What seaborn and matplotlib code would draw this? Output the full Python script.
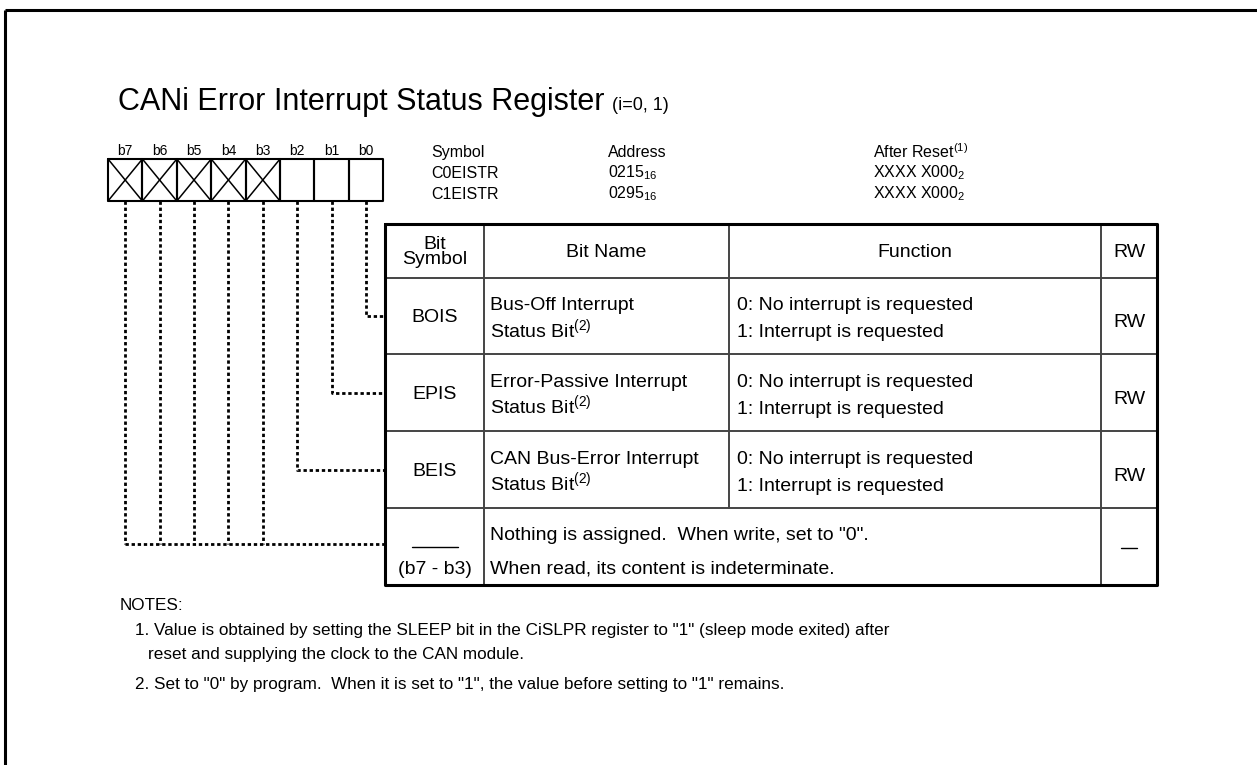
import matplotlib.pyplot as plt
import seaborn as sns

# ---- register contents ----
BIT_LABELS = ["b7", "b6", "b5", "b4", "b3", "b2", "b1", "b0"]
RESERVED = [True, True, True, True, True, False, False, False]

REG_HEADER = ["Symbol", "Address", "After Reset$^{(1)}$"]
REG_SYMBOLS = ["C0EISTR", "C1EISTR"]
REG_ADDRESS = ["0215$_{16}$", "0295$_{16}$"]
REG_RESET = ["XXXX X000$_{2}$", "XXXX X000$_{2}$"]

COL_HEADERS = ["Bit\nSymbol", "Bit Name", "Function", "RW"]
BIT_SYMBOLS = ["BOIS", "EPIS", "BEIS"]
BIT_INDEX = [0, 1, 2]
BIT_NAMES = [
    ("Bus-Off Interrupt", "Status Bit$^{(2)}$"),
    ("Error-Passive Interrupt", "Status Bit$^{(2)}$"),
    ("CAN Bus-Error Interrupt", "Status Bit$^{(2)}$"),
]
FUNCTIONS = [
    ("0: No interrupt is requested", "1: Interrupt is requested"),
    ("0: No interrupt is requested", "1: Interrupt is requested"),
    ("0: No interrupt is requested", "1: Interrupt is requested"),
]
RW = ["RW", "RW", "RW"]
RESERVED_SYMBOL = "(b7 - b3)"
RESERVED_TEXT = ('Nothing is assigned.  When write, set to "0".',
                 "When read, its content is indeterminate.")

TITLE = "CANi Error Interrupt Status Register"
SUBTITLE = "(i=0, 1)"
NOTES = [
    "NOTES:",
    '1. Value is obtained by setting the SLEEP bit in the CiSLPR register to "1" (sleep mode exited) after',
    "reset and supplying the clock to the CAN module.",
    '2. Set to "0" by program.  When it is set to "1", the value before setting to "1" remains.',
]

# ---- layout (pixels) ----
W, H = 1257, 765
BOX_X0, BOX_W, BOX_Y0, BOX_Y1 = 108, 34.4, 159, 201
TX = [385, 484, 729, 1101, 1157]
TY = [224, 278, 354, 431, 508, 585]
FS_BODY, FS_REG, FS_NOTE = 14, 11.5, 12.3

sns.set_theme(style="white")
plt.rcParams["font.family"] = ["Liberation Sans", "DejaVu Sans"]
plt.rcParams["text.color"] = "black"
plt.rcParams["mathtext.fontset"] = "custom"
plt.rcParams["mathtext.rm"] = "Liberation Sans"
plt.rcParams["mathtext.it"] = "Liberation Sans:italic"
plt.rcParams["mathtext.bf"] = "Liberation Sans:bold"

fig = plt.figure(figsize=(W / 100, H / 100), dpi=100)
ax = fig.add_axes([0, 0, 1, 1])
ax.set_xlim(0, W)
ax.set_ylim(H, 0)
ax.axis("off")

# outer frame (top and left only)
ax.plot([5, W], [10, 10], color="black", lw=2.2, solid_capstyle="butt")
ax.plot([5, 5], [10, H], color="black", lw=2.2, solid_capstyle="butt")

ax.text(118, 110, TITLE, fontsize=22, va="baseline", ha="left")
ax.text(612, 110, SUBTITLE, fontsize=13, va="baseline", ha="left")

# bit boxes
for i, (lab, res) in enumerate(zip(BIT_LABELS, RESERVED)):
    x0 = BOX_X0 + i * BOX_W
    x1 = x0 + BOX_W
    ax.text((x0 + x1) / 2, 151, lab, fontsize=10, ha="center", va="center")
    ax.plot([x0, x1, x1, x0, x0], [BOX_Y0, BOX_Y0, BOX_Y1, BOX_Y1, BOX_Y0],
            color="black", lw=1.5)
    if res:
        ax.plot([x0, x1], [BOX_Y0, BOX_Y1], color="black", lw=1.1)
        ax.plot([x0, x1], [BOX_Y1, BOX_Y0], color="black", lw=1.1)

# register symbol / address / reset block
for col_x, head, vals in zip([431, 608, 873], REG_HEADER,
                             [REG_SYMBOLS, REG_ADDRESS, REG_RESET]):
    ax.text(col_x, 152, head, fontsize=FS_REG, ha="left", va="center")
    for j, v in enumerate(vals):
        ax.text(col_x, 173 + 21 * j, v, fontsize=FS_REG, ha="left", va="center")

# table grid
inner = dict(color="#444444", lw=1.4)
for y in TY[1:-1]:
    ax.plot([TX[0], TX[-1]], [y, y], **inner)
for k, x in enumerate(TX[1:-1]):
    # the last row merges Bit Name and Function
    y_end = TY[-1] if k != 1 else TY[-2]
    ax.plot([x, x], [TY[0], y_end], **inner)
ax.plot([TX[0], TX[-1], TX[-1], TX[0], TX[0]],
        [TY[0], TY[0], TY[-1], TY[-1], TY[0]], color="black", lw=2.2)

# header row
hc = (TY[0] + TY[1]) / 2
for k, head in enumerate(COL_HEADERS):
    xc = (TX[k] + TX[k + 1]) / 2
    ax.text(xc, hc + 1, head, fontsize=FS_BODY, ha="center", va="center",
            linespacing=0.85)

# bit rows
for r in range(len(BIT_SYMBOLS)):
    y0, y1 = TY[r + 1], TY[r + 2]
    c = (y0 + y1) / 2
    ax.text((TX[0] + TX[1]) / 2, c + 6, BIT_SYMBOLS[r], fontsize=FS_BODY,
            ha="center", va="baseline")
    ax.text(TX[1] + 6, c - 6, BIT_NAMES[r][0], fontsize=FS_BODY, va="baseline")
    ax.text(TX[1] + 6, c + 21, BIT_NAMES[r][1], fontsize=FS_BODY, va="baseline")
    ax.text(TX[2] + 8, c - 6, FUNCTIONS[r][0], fontsize=FS_BODY, va="baseline")
    ax.text(TX[2] + 8, c + 21, FUNCTIONS[r][1], fontsize=FS_BODY, va="baseline")
    ax.text((TX[3] + TX[4]) / 2, c + 11, RW[r], fontsize=FS_BODY,
            ha="center", va="baseline")

# reserved row
y0, y1 = TY[-2], TY[-1]
c = (y0 + y1) / 2
xc = (TX[0] + TX[1]) / 2
ax.plot([xc - 23, xc + 23], [c, c], color="black", lw=1.0)
ax.text(xc, c + 27, RESERVED_SYMBOL, fontsize=FS_BODY, ha="center", va="baseline")
ax.text(TX[1] + 6, c - 6, RESERVED_TEXT[0], fontsize=FS_BODY, va="baseline")
ax.text(TX[1] + 6, c + 27, RESERVED_TEXT[1], fontsize=FS_BODY, va="baseline")
xr = (TX[3] + TX[4]) / 2
ax.plot([xr - 8, xr + 8], [c + 1, c + 1], color="black", lw=1.0)

# dotted leader lines from bits to table rows
dot = dict(color="black", lw=2.0, linestyle=(0, (1.2, 1.0)), dash_capstyle="butt")
bit_pos = {b: BOX_X0 + (7 - b + 0.5) * BOX_W for b in range(8)}
for r, b in enumerate(BIT_INDEX):
    yc = (TY[r + 1] + TY[r + 2]) / 2
    ax.plot([bit_pos[b], bit_pos[b], TX[0]], [BOX_Y1, yc, yc], **dot)
yc = (TY[-2] + TY[-1]) / 2 - 3
for i, res in enumerate(RESERVED):
    if res:
        x = BOX_X0 + (i + 0.5) * BOX_W
        ax.plot([x, x], [BOX_Y1, yc], **dot)
ax.plot([bit_pos[7], TX[0]], [yc, yc], **dot)

# notes
ax.text(120, 605, NOTES[0], fontsize=FS_NOTE, va="center")
ax.text(135, 631, NOTES[1], fontsize=FS_NOTE, va="center")
ax.text(148, 655, NOTES[2], fontsize=FS_NOTE, va="center")
ax.text(135, 685, NOTES[3], fontsize=FS_NOTE, va="center")

fig.savefig("out.png", dpi=100, facecolor="white")
